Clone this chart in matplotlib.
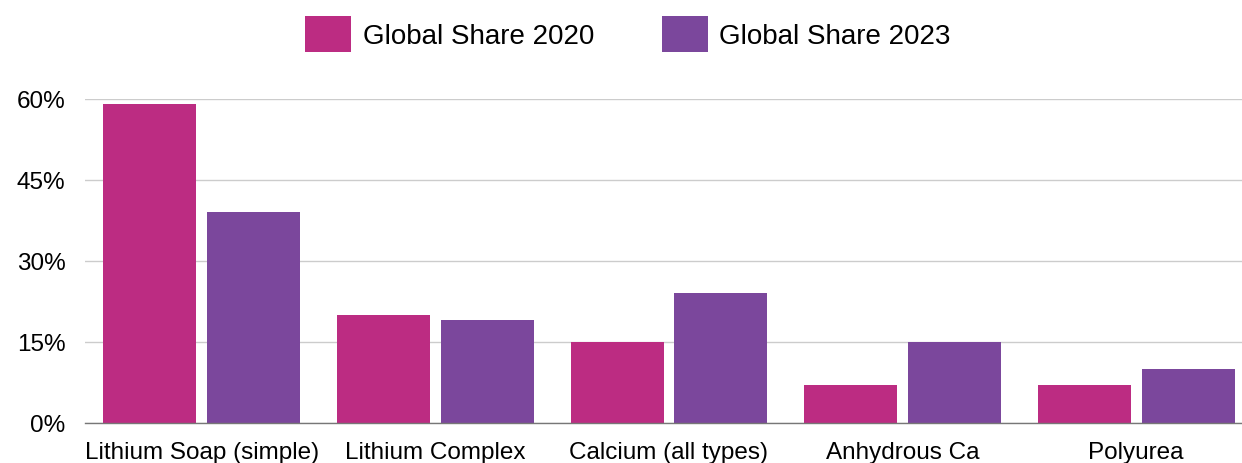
import matplotlib.pyplot as plt
import numpy as np
from matplotlib.ticker import FuncFormatter

categories = ["Lithium Soap (simple)", "Lithium Complex", "Calcium (all types)",
              "Anhydrous Ca", "Polyurea"]
share_2020 = [59, 20, 15, 7, 7]
share_2023 = [39, 19, 24, 15, 10]
y_ticks = [0, 15, 30, 45, 60]

plt.rcParams['font.family'] = ['Liberation Sans', 'DejaVu Sans']

fig = plt.figure(figsize=(12.42, 4.64), dpi=100)
ax = fig.add_axes([85 / 1242, 40 / 464, 1157 / 1242, 324 / 464])

x = np.arange(len(categories))
w = 0.398
b1 = ax.bar(x - 0.2225, share_2020, w, color="#BC2C82", label="Global Share 2020")
b2 = ax.bar(x + 0.2225, share_2023, w, color="#7B479C", label="Global Share 2023")

ax.set_xlim(-0.5, 4.453)
ax.set_ylim(0, 60)
ax.set_yticks(y_ticks)
ax.yaxis.set_major_formatter(FuncFormatter(lambda v, p: f"{v:.0f}%"))
ax.set_xticks(x)
ax.set_xticklabels(categories)
ax.tick_params(axis="both", length=0, labelsize=17.5, colors="black")
ax.tick_params(axis="y", pad=14)
ax.tick_params(axis="x", pad=13)

ax.grid(axis="y", color="#cccccc", linewidth=1)
ax.set_axisbelow(True)
for s in ["top", "right", "left"]:
    ax.spines[s].set_visible(False)
ax.spines["bottom"].set_color("#777777")
ax.spines["bottom"].set_linewidth(1)

fig.legend(handles=[b1, b2], loc="center", bbox_to_anchor=(628 / 1242, 1 - 35 / 464),
           ncol=2, frameon=False, fontsize=20, handlelength=1.66, handleheight=1.6,
           columnspacing=2.45, handletextpad=0.4)

plt.savefig("out.png", dpi=100)
